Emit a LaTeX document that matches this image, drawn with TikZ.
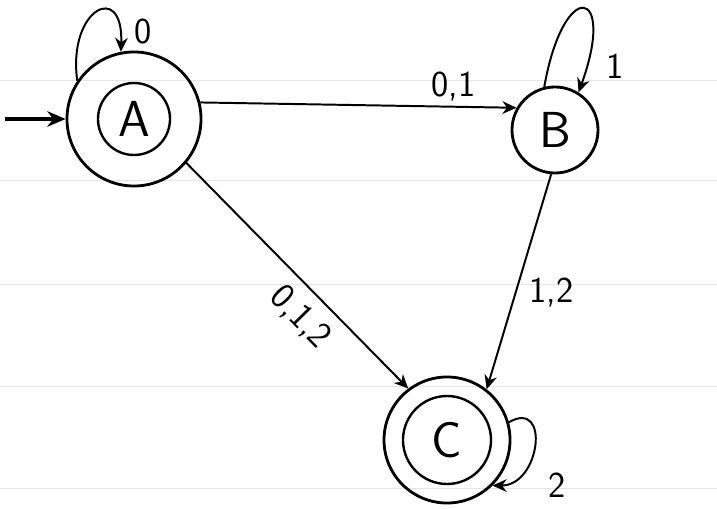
\documentclass[tikz,border=0pt]{standalone}
\usetikzlibrary{arrows.meta,positioning}
\begin{document}
\begin{tikzpicture}[x=0.025cm, y=0.025cm, line width=1.4pt, >={Stealth[length=10pt,width=9pt]},
    state/.style={circle, draw, line width=2pt, inner sep=0pt, font=\sffamily\fontsize{36}{38}\selectfont},
    ring/.style={circle, draw, line width=1.7pt, inner sep=0pt},
    edgelabel/.style={font=\sffamily\fontsize{26}{28}\selectfont, inner sep=1pt}]
    \useasboundingbox (0,0) rectangle (717,508);
    % ruled paper
    \foreach \y in {20,122,224,328,428} {\draw[black!10, line width=0.6pt] (0,\y) -- (717,\y);}

    \node[state, minimum size=3.35cm] (A) at (134,389) {A}; \node[ring, minimum size=1.8cm] (A2) at (A) {};
    \node[state, minimum size=2.15cm] (B) at (555,378) {B};
    \node[state, minimum size=3.15cm] (C) at (447,68) {C}; \node[ring, minimum size=2.2cm] (C2) at (C) {};
    \coordinate (init) at (5,389);

    \draw[->, line width=2.2pt, >={Stealth[length=13pt,width=11pt]}] (init) -- (A.west);
    \draw[->] (A.14) -- (B.150) node[edgelabel, pos=0.8, above=2pt] {0,1};
    \draw[->] (A.-40) -- (C.127) node[edgelabel, pos=0.6, sloped, below=7pt] {0,1,2};
    \draw[->] (B.-95) -- (C.52) node[edgelabel, pos=0.55, right=8pt] {1,2};

    \draw[->] (A.146) to[out=98, in=88, distance=1.8cm] (A.101) node[edgelabel, above right=4pt and 8pt] {0};
    \draw[->] (B.104) to[out=80, in=70, distance=2.8cm] (B.58) node[edgelabel, above right=8pt and 18pt] {1};
    \draw[->] (C.16) to[out=30, in=0, distance=1.2cm] (C.-45) node[edgelabel, right=38pt] {2};
\end{tikzpicture}
\end{document}
